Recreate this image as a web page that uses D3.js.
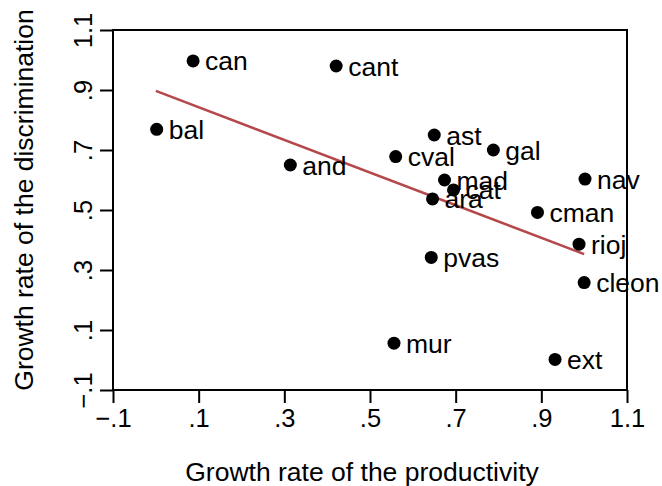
<!DOCTYPE html>
<html>
<head>
<meta charset="utf-8">
<script src="https://cdn.jsdelivr.net/npm/d3@7/dist/d3.min.js"></script>
<style>
  html, body { margin: 0; padding: 0; background: #fff; }
  svg { display: block; font-family: "Liberation Sans", Arial, Helvetica, sans-serif; }
</style>
</head>
<body>
<svg id="chart" width="662" height="486"></svg>
<script>
// Data
const regions = ["can","cant","bal","and","ast","cval","gal","mad","cat","ara","nav","cman","rioj","pvas","cleon","mur","ext"];
const productivity = [0.087,0.421,0.002,0.314,0.650,0.560,0.788,0.674,0.695,0.646,1.002,0.891,0.988,0.643,1.000,0.556,0.932];
const discrimination = [0.997,0.980,0.769,0.650,0.750,0.678,0.700,0.600,0.567,0.537,0.603,0.492,0.386,0.342,0.258,0.056,0.002];
const fitX = [0.0, 1.0];
const fitY = [0.897, 0.353];
const tickValues = [-0.1, 0.1, 0.3, 0.5, 0.7, 0.9, 1.1];
const tickLabels = ["\u2212.1", ".1", ".3", ".5", ".7", ".9", "1.1"];
const xTitle = "Growth rate of the productivity";
const yTitle = "Growth rate of the discrimination";

const svg = d3.select("#chart");
const L = 113, R = 627, T = 30, B = 390;
const x = d3.scaleLinear().domain([-0.1, 1.1]).range([L, R]);
const y = d3.scaleLinear().domain([-0.1, 1.1]).range([B, T]);

// Box
svg.append("rect").attr("x", L).attr("y", T).attr("width", R - L).attr("height", B - T)
  .attr("fill", "none").attr("stroke", "#000").attr("stroke-width", 2);

const fmt = v => tickLabels[tickValues.indexOf(v)];

// X axis
const xAxis = svg.append("g").attr("transform", `translate(0,${B})`)
  .call(d3.axisBottom(x).tickValues(tickValues).tickFormat(fmt).tickSize(13).tickPadding(6));
xAxis.select(".domain").remove();
xAxis.selectAll(".tick line").attr("stroke", "#000").attr("stroke-width", 2);
xAxis.selectAll(".tick text").attr("font-size", 25.5).attr("fill", "#000")
  .attr("font-family", "Liberation Sans, Arial, sans-serif");

// Y axis
const yAxis = svg.append("g").attr("transform", `translate(${L},0)`)
  .call(d3.axisLeft(y).tickValues(tickValues).tickFormat(fmt).tickSize(13).tickPadding(6));
yAxis.select(".domain").remove();
yAxis.selectAll(".tick line").attr("stroke", "#000").attr("stroke-width", 2);
yAxis.selectAll(".tick text").remove();
yAxis.selectAll(".tick").append("text")
  .attr("transform", "translate(-21,0) rotate(-90)")
  .attr("text-anchor", "middle")
  .attr("font-size", 25.5).attr("fill", "#000")
  .attr("font-family", "Liberation Sans, Arial, sans-serif")
  .text(d => fmt(d));

// Titles
svg.append("text").attr("x", 362).attr("y", 481).attr("text-anchor", "middle")
  .attr("font-size", 26.5).attr("fill", "#000").text(xTitle);
svg.append("text").attr("transform", `translate(33,200) rotate(-90)`)
  .attr("text-anchor", "middle").attr("font-size", 26.5).attr("fill", "#000").text(yTitle);

// Fit line
svg.append("line")
  .attr("x1", x(fitX[0])).attr("y1", y(fitY[0]))
  .attr("x2", x(fitX[1])).attr("y2", y(fitY[1]))
  .attr("stroke", "#b5484b").attr("stroke-width", 2.5);

// Points
const pts = regions.map((r, i) => ({ r, px: productivity[i], dy: discrimination[i] }));
svg.append("g").selectAll("circle").data(pts).join("circle")
  .attr("cx", d => x(d.px)).attr("cy", d => y(d.dy)).attr("r", 6.5).attr("fill", "#000");
svg.append("g").selectAll("text").data(pts).join("text")
  .attr("x", d => x(d.px) + 12).attr("y", d => y(d.dy)).attr("dy", "0.36em")
  .attr("font-size", 26.5).attr("fill", "#000").text(d => d.r);
</script>
</body>
</html>
